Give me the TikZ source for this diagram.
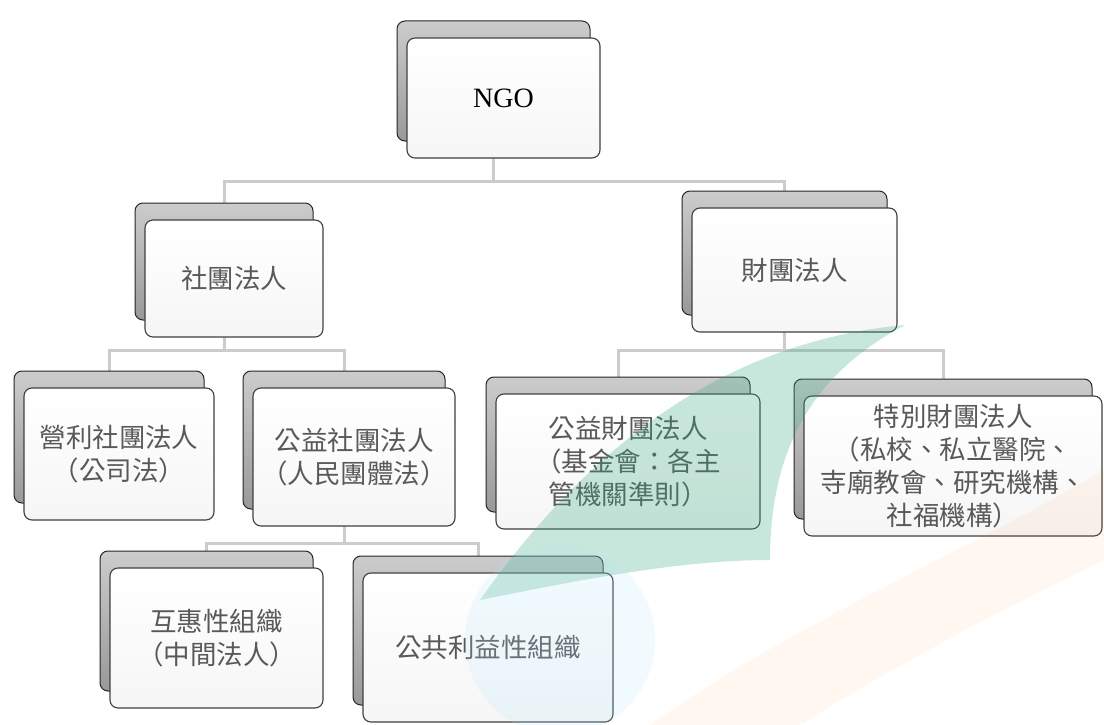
\documentclass[tikz,border=0pt]{standalone}
\usepackage{fontspec}
\setmainfont{Liberation Serif}
\newfontfamily\cjk{Noto Sans CJK TC}
\usetikzlibrary{calc}
\pgfdeclarelayer{bg}
\pgfdeclarelayer{fg}
\pgfsetlayers{bg,main,fg}
\newcommand\mycard[6]{%
  \node[backcard, minimum width={(#4-#2)*1pt}, minimum height={(#5-#3)*1pt}] (#1-b) at ({(#2+#4)/2-10},{(#3+#5)/2-17}) {};
  \node[frontcard, minimum width={(#4-#2)*1pt}, minimum height={(#5-#3)*1pt}] (#1) at ({(#2+#4)/2},{(#3+#5)/2}) {#6};
}
\definecolor{wmgreen}{RGB}{60,170,130}
\begin{document}
\begin{tikzpicture}[x=1pt,y=-1pt,
  backcard/.style={draw=gray!30!black, line width=1pt, rounded corners=8pt, top color=gray!40, bottom color=gray!80, inner sep=0pt},
  frontcard/.style={draw=gray!50!black, line width=1.1pt, rounded corners=8pt, top color=white, bottom color=gray!7, inner sep=0pt, align=center, font=\cjk\fontsize{26.5}{33}\selectfont, text=black!65},
  conn/.style={draw=gray!40, line width=3pt}]
\begin{pgfonlayer}{bg}
\fill[white] (0,0) rectangle (1104,725);
\end{pgfonlayer}
\useasboundingbox (0,0) rectangle (1104,725);
\coordinate (L1) at (0,181);
\coordinate (L2) at (0,350);
\coordinate (L3) at (0,543);
\mycard{ngo}{407}{38}{600}{158}{\rmfamily\fontsize{28}{32}\selectfont\color{black}NGO}
\mycard{sh}{145}{220}{323}{337}{社團法人}
\mycard{cf}{692}{208}{897}{332}{財團法人}
\mycard{yl}{24}{388}{214}{520}{營利社團法人\\（公司法）}
\mycard{gy}{253}{388}{455}{526}{公益社團法人\\（人民團體法）}
\mycard{gc}{496}{394}{760}{529}{公益財團法人\\（基金會：各主\\管機關準則）}
\mycard{tb}{804}{396}{1102}{536}{特別財團法人\\（私校、私立醫院、\\寺廟教會、研究機構、\\社福機構）}
\mycard{hh}{110}{568}{323}{708}{互惠性組織\\（中間法人）}
\mycard{gg}{363}{573}{613}{722}{公共利益性組織}
\begin{pgfonlayer}{bg}
\draw[conn] (ngo-b.south) -- (ngo-b.south |- L1) -| (sh-b.north);
\draw[conn] (ngo-b.south |- L1) -| (cf-b.north);
\draw[conn] (sh-b.south) -- (sh-b.south |- L2) -| (yl-b.north);
\draw[conn] (sh-b.south |- L2) -| (gy-b.north);
\draw[conn] (cf-b.south) -- (cf-b.south |- L2) -| (gc-b.north);
\draw[conn] (cf-b.south |- L2) -| (tb-b.north);
\draw[conn] (gy-b.south) -- (gy-b.south |- L3) -| (hh-b.north);
\draw[conn] (gy-b.south |- L3) -| (gg-b.north);
\end{pgfonlayer}
\begin{pgfonlayer}{fg}
\fill[wmgreen, opacity=0.28] (480,600) .. controls (600,430) and (740,340) .. (905,325) .. controls (820,370) and (770,440) .. (770,560) .. controls (680,560) and (580,580) .. (480,600) -- cycle;
\fill[orange, opacity=0.06] (650,725) .. controls (800,620) and (950,560) .. (1104,470) -- (1104,560) .. controls (980,620) and (870,680) .. (800,725) -- cycle;
\fill[cyan!30, opacity=0.18] (560,640) circle (95);
\end{pgfonlayer}
\end{tikzpicture}
\end{document}
